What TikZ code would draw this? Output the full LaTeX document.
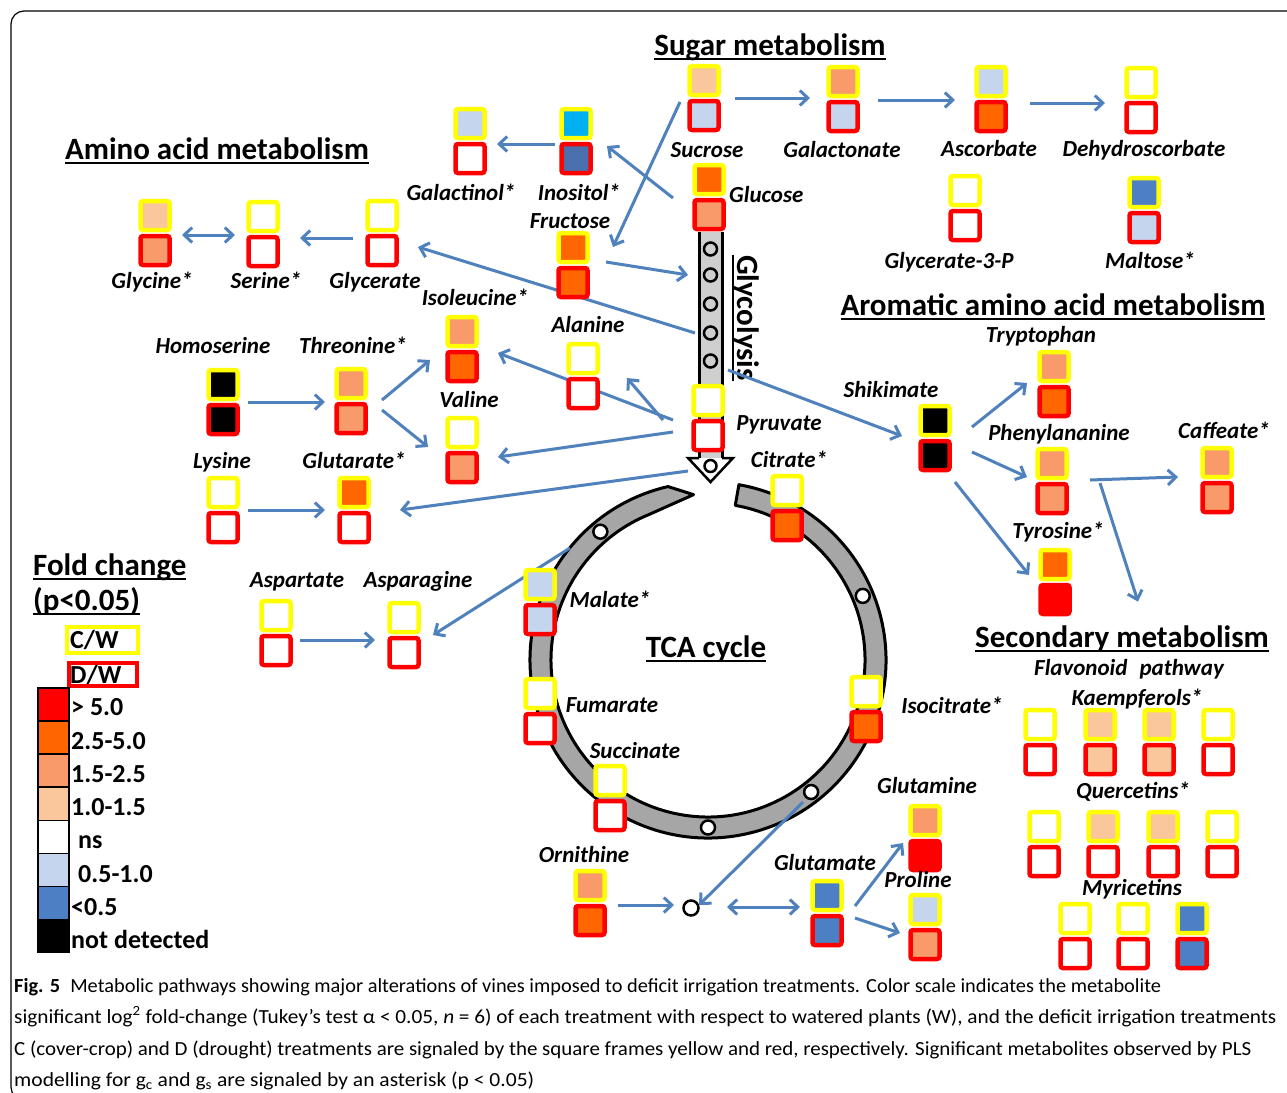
\documentclass[tikz,border=0pt]{standalone}
\usepackage{fontspec}
\setmainfont{Carlito}
\usepackage{graphicx}
\usetikzlibrary{arrows.meta,calc}

\definecolor{yel}{HTML}{FFFF00}
\definecolor{rd}{HTML}{FF0000}
\definecolor{org}{HTML}{FF6600}
\definecolor{sal}{HTML}{F89A6A}
\definecolor{pea}{HTML}{FAC69C}
\definecolor{wh}{HTML}{FFFFFF}
\definecolor{lbl}{HTML}{C6D5EE}
\definecolor{blu}{HTML}{4D7FC4}
\definecolor{dbl}{HTML}{4A70AE}
\definecolor{cya}{HTML}{00B0F0}
\definecolor{blk}{HTML}{000000}
\definecolor{arrblue}{HTML}{4F81BD}
\definecolor{ringgray}{HTML}{A6A6A6}
\definecolor{colgray}{HTML}{CFCFCF}

\newcommand\myul[1]{\setbox0\hbox{#1}\rlap{\rule[-0.16em]{\wd0}{0.065em}}\box0}

\newcommand\metab[5]{%
  \coordinate (#1) at (#2,#3);
  \node[ybox, fill=#4] (#1C) at (#2,#3-17.5) {};
  \node[rbox, fill=#5] (#1D) at (#2,#3+17.5) {};}

\tikzset{
  ybox/.style={draw=yel, line width=4.5pt, rounded corners=2.5pt, minimum size=29pt, inner sep=0pt, outer sep=0pt},
  rbox/.style={ybox, draw=rd},
  lab/.style={font=\fontsize{23}{27}\selectfont\bfseries\itshape, inner sep=0pt, anchor=base},
  ttl/.style={font=\fontsize{31}{36}\selectfont\bfseries, inner sep=0pt, anchor=base},
  leg/.style={font=\fontsize{26}{30}\selectfont\bfseries, inner sep=0pt, anchor=base west},
  captext/.style={font=\fontsize{20}{24}\selectfont, inner sep=0pt, anchor=base west},
  arr/.style={draw=arrblue, line width=3pt, -{Straight Barb[length=8pt,width=15pt]}},
  darr/.style={draw=arrblue, line width=3pt, {Straight Barb[length=8pt,width=15pt]}-{Straight Barb[length=8pt,width=15pt]}},
  ringdot/.style={circle, draw, fill=white, line width=2.5pt, minimum size=14pt, inner sep=0pt},
}

\begin{document}
\begin{tikzpicture}[x=1pt, y=-1pt]
\useasboundingbox (0,0) rectangle (1287,1092);
\fill[white] (0,0) rectangle (1287,1092);
\begin{scope}
  \clip (0,0) rectangle (1287,1092);
  \draw[line width=1.2pt, rounded corners=13pt] (11,11) rectangle (1330,1100);
\end{scope}

% TCA ring
\begin{scope}[shift={(708,660)}, y=1pt]
  \filldraw[fill=ringgray, draw=black, line width=3pt, line join=round]
    (95:166) -- (103:178) arc[start angle=103, end angle=440, radius=178]
    -- (440:157) arc[start angle=440, end angle=112, radius=157] -- cycle;
  \node[ringdot] (rc1) at (130:167.5) {};
  \node[ringdot] (rc2) at (22.5:167.5) {};
  \node[ringdot] (rc3) at (-52:167.5) {};
  \node[ringdot] (rc4) at (-90:167.5) {};
\end{scope}

% glycolysis column
\node[fill=colgray, minimum width=23pt, minimum height=226pt, inner sep=0pt, outer sep=0pt] (glyc) at (710.5,345) {};
\draw[line width=3pt] (glyc.north west) -- (glyc.south west);
\draw[line width=3pt] (glyc.north east) -- (glyc.south east);
\foreach \yy in {249,275,304,333,361}
  \draw[line width=2.5pt] (710.5,\yy) circle[radius=6.5];
\filldraw[fill=white, line width=2.5pt, line join=miter]
  (glyc.south west) -- ++(-11,0) -- ($(glyc.south)+(0,24)$) -- ($(glyc.south east)+(11,0)$) -- (glyc.south east);
\draw[line width=2.5pt] ($(glyc.south)+(0,8)$) circle[radius=6];
\node[font=\fontsize{31}{36}\selectfont\bfseries, inner sep=0pt, rotate=-90, anchor=base west] (glycT) at (737,255) {\myul{Glycolysis}};

% junction circle
\node[circle, draw, line width=2.5pt, fill=white, minimum size=15pt, inner sep=0pt] (junc) at (691,908) {};

% coordinates of metabolites (for connectors)
\coordinate (suc) at (704,98);   \coordinate (gal) at (843,99);
\coordinate (asc) at (991,99);   \coordinate (dhs) at (1141,100);
\coordinate (ino) at (576,141);  \coordinate (gtl) at (470,141);
\coordinate (glc) at (709,197);  \coordinate (fru) at (573,265);
\coordinate (gly) at (155,233);  \coordinate (ser) at (263,234);
\coordinate (gla) at (382,233);  \coordinate (hse) at (223,402);
\coordinate (thr) at (351,401);  \coordinate (lys) at (223,510);
\coordinate (gta) at (354,510);  \coordinate (asp) at (276,633);
\coordinate (asn) at (404,635);  \coordinate (ile) at (462,349);
\coordinate (val) at (462,450);  \coordinate (ala) at (583,376);
\coordinate (pyr) at (708,418);  \coordinate (mla) at (540,602);
\coordinate (orn) at (590,903);  \coordinate (glu) at (827,913);
\coordinate (gln) at (925,838);  \coordinate (pro) at (925,927);
\coordinate (shk) at (935,438);  \coordinate (trp) at (1054,384);
\coordinate (phe) at (1052,481); \coordinate (caf) at (1217,480);
\coordinate (tyr) at (1055,582);

% headings
\node[ttl] (sugar) at (770,55) {\myul{Sugar metabolism}};
\node[ttl] (amino) at (217,159) {\myul{Amino acid metabolism}};
\node[ttl] (arom) at (1053,315) {\myul{Aromatic amino acid metabolism}};
\node[ttl] (sec) at (1122,647) {\myul{Secondary metabolism}};
\node[ttl] (tca) at (706,657) {\myul{TCA cycle}};

% connectors
\draw[arr] ($(suc)+(31,0)$) -- ($(gal)+(-33,-1)$);
\draw[arr] ($(gal)+(35,1)$) -- ($(asc)+(-36,1)$);
\draw[arr] ($(asc)+(39,4)$) -- ($(dhs)+(-36,3)$);
\draw[arr] ($(ino)+(-21,3)$) -- ($(gtl)+(27,3)$);
\draw[arr] ($(glc)+(-36,1)$) -- ($(ino)+(31,5)$);
\draw[arr] ($(suc)+(-24,4)$) -- ($(fru)+(40,-18)$);
\draw[arr] ($(fru)+(33,-3)$) -- ($(glyc.west)+(-11,-70)$);
\draw[arr] ($(glyc.west)+(-4,-12)$) -- ($(gla)+(36,14)$);
\draw[arr] ($(glyc.east)+(6,25)$) -- ($(shk)+(-33,-2)$);
\draw[darr] ($(gly)+(27,2)$) -- ($(ser)+(-28,1)$);
\draw[arr] ($(gla)+(-29,5)$) -- ($(ser)+(37,4)$);
\draw[arr] ($(hse)+(25,0)$) -- ($(thr)+(-26,1)$);
\draw[arr] ($(thr)+(31,-1)$) -- ($(ile)+(-32,11)$);
\draw[arr] ($(thr)+(31,9)$) -- ($(val)+(-34,-3)$);
\draw[arr] ($(lys)+(25,0)$) -- ($(gta)+(-29,0)$);
\draw[arr] ($(pyr)+(-35,2)$) -- ($(ile)+(36,4)$);
\draw[arr] ($(pyr)+(-45,2)$) -- ($(ala)+(44,2)$);
\draw[arr] ($(pyr)+(-35,14)$) -- ($(val)+(36,7)$);
\draw[arr] ($(pyr)+(-20,53)$) -- ($(gta)+(46,0)$);
\draw[arr] ($(asp)+(24,7)$) -- ($(asn)+(-29,5)$);
\draw[arr] ($(mla)+(30,-54)$) -- ($(asn)+(29,0)$);
\draw[arr] ($(shk)+(37,-11)$) -- ($(trp)+(-27,-1)$);
\draw[arr] ($(shk)+(37,14)$) -- ($(phe)+(-25,-4)$);
\draw[arr] ($(shk)+(20,44)$) -- ($(tyr)+(-26,-7)$);
\draw[arr] ($(phe)+(38,-1)$) -- ($(caf)+(-39,-3)$);
\draw[arr] ($(phe)+(48,2)$) -- ($(sec)+(16,-37)$);
\draw[arr] ($(orn)+(28,2)$) -- ($(junc)+(-17,-3)$);
\draw[darr] ($(junc)+(36,-1)$) -- ($(glu)+(-27,-6)$);
\draw[arr] ($(rc3)+(-8,10)$) -- ($(junc)+(8,-3)$);
\draw[arr] ($(glu)+(28,-7)$) -- ($(gln)+(-22,5)$);
\draw[arr] ($(glu)+(28,5)$) -- ($(pro)+(-25,6)$);

% metabolite boxes
\metab{sucB}{704}{98}{pea}{lbl}
\metab{galB}{843}{99}{sal}{lbl}
\metab{ascB}{991}{99}{lbl}{org}
\metab{dhsB}{1141}{100}{wh}{wh}
\metab{g3pB}{965}{208}{wh}{wh}
\metab{mltB}{1144}{210}{blu}{lbl}
\metab{inoB}{576}{141}{cya}{dbl}
\metab{gtlB}{470}{141}{lbl}{wh}
\metab{glcB}{709}{197}{org}{sal}
\metab{fruB}{573}{265}{org}{org}
\metab{glyB}{155}{233}{pea}{sal}
\metab{serB}{263}{234}{wh}{wh}
\metab{glaB}{382}{233}{wh}{wh}
\metab{hseB}{223}{402}{blk}{blk}
\metab{thrB}{351}{401}{sal}{sal}
\metab{lysB}{223}{510}{wh}{wh}
\metab{gtaB}{354}{510}{org}{wh}
\metab{aspB}{276}{633}{wh}{wh}
\metab{asnB}{404}{635}{wh}{wh}
\metab{ileB}{462}{349}{sal}{org}
\metab{valB}{462}{450}{wh}{sal}
\metab{alaB}{583}{376}{wh}{wh}
\metab{pyrB}{708}{418}{wh}{wh}
\metab{citB}{787}{508}{wh}{org}
\metab{mlaB}{540}{602}{lbl}{lbl}
\metab{fumB}{540}{711}{wh}{wh}
\metab{sccB}{610}{798}{wh}{wh}
\metab{ornB}{590}{903}{sal}{org}
\metab{ictB}{866}{709}{wh}{org}
\metab{gluB}{827}{913}{blu}{blu}
\metab{glnB}{925}{838}{sal}{rd}
\metab{proB}{925}{927}{lbl}{sal}
\metab{shkB}{935}{438}{blk}{blk}
\metab{trpB}{1054}{384}{sal}{org}
\metab{pheB}{1052}{481}{sal}{sal}
\metab{cafB}{1217}{480}{sal}{sal}
\metab{tyrB}{1055}{582}{org}{rd}
\metab{kae1}{1040}{742}{wh}{wh}
\metab{kae2}{1100}{742}{pea}{pea}
\metab{kae3}{1159}{742}{pea}{pea}
\metab{kae4}{1218}{742}{wh}{wh}
\metab{que1}{1044}{844}{wh}{wh}
\metab{que2}{1103}{844}{pea}{wh}
\metab{que3}{1163}{844}{pea}{wh}
\metab{que4}{1222}{844}{wh}{wh}
\metab{myr1}{1075}{936}{wh}{wh}
\metab{myr2}{1133}{936}{wh}{wh}
\metab{myr3}{1192}{936}{blu}{blu}

% labels
\node[lab] (sucL) at (707,157) {Sucrose};
\node[lab] (galL) at (842,157) {Galactonate};
\node[lab] (ascL) at (989,156) {Ascorbate};
\node[lab] (dhsL) at (1144,156) {Dehydroscorbate};
\node[lab] (g3pL) at (949,268) {Glycerate-3-P};
\node[lab] (mltL) at (1150,268) {Maltose*};
\node[lab] (gtlL) at (461,200) {Galactinol*};
\node[lab] (inoL) at (579,200) {Inositol*};
\node[lab] (fruL) at (570,228) {Fructose};
\node[lab, anchor=base west] (glcL) at (729,202) {Glucose};
\node[lab] (glyL) at (152,288) {Glycine*};
\node[lab] (serL) at (266,288) {Serine*};
\node[lab] (glaL) at (375,288) {Glycerate};
\node[lab] (ileL) at (475,305) {Isoleucine*};
\node[lab] (alaL) at (588,332) {Alanine};
\node[lab] (hseL) at (213,353) {Homoserine};
\node[lab] (thrL) at (353,353) {Threonine*};
\node[lab] (valL) at (469,407) {Valine};
\node[lab] (lysL) at (222,468) {Lysine};
\node[lab] (gtaL) at (354,468) {Glutarate*};
\node[lab] (aspL) at (297,587) {Aspartate};
\node[lab] (asnL) at (418,587) {Asparagine};
\node[lab] (pyrL) at (779,430) {Pyruvate};
\node[lab] (citL) at (789,467) {Citrate*};
\node[lab] (mlaL) at (610,607) {Malate*};
\node[lab] (fumL) at (612,712) {Fumarate};
\node[lab] (sccL) at (635,758) {Succinate};
\node[lab] (ornL) at (584,862) {Ornithine};
\node[lab] (ictL) at (952,713) {Isocitrate*};
\node[lab] (glnL) at (927,793) {Glutamine};
\node[lab] (gluL) at (825,870) {Glutamate};
\node[lab] (proL) at (918,887) {Proline};
\node[lab] (shkL) at (891,397) {Shikimate};
\node[lab] (trpL) at (1041,342) {Tryptophan};
\node[lab] (pheL) at (1059,440) {Phenylananine};
\node[lab] (cafL) at (1224,438) {Caffeate*};
\node[lab] (tyrL) at (1058,538) {Tyrosine*};
\node[lab] (flaL) at (1129,675) {Flavonoid\hspace{0.3em} pathway};
\node[lab] (kaeL) at (1137,705) {Kaempferols*};
\node[lab] (queL) at (1133,798) {Quercetins*};
\node[lab] (myrL) at (1132,895) {Myricetins};

% legend
\node[ttl, anchor=base west] (fold) at (33,575) {\myul{Fold change}};
\node[ttl, anchor=base west] (pval) at (33,610) {\myul{(p<0.05)}};
\node[draw=yel, line width=4pt, minimum width=71pt, minimum height=26pt, inner sep=0pt] (cw) at (102,640) {};
\node[draw=rd, line width=4pt, minimum width=68pt, minimum height=23pt, inner sep=0pt] (dw) at (103,674.5) {};
\node[leg] (cwT) at (70,648) {C/W};
\node[leg] (dwT) at (70,683) {D/W};
\foreach \c/\i in {rd/0, org/1, sal/2, pea/3, wh/4, lbl/5, blu/6, blk/7}
  \node[draw, line width=1.5pt, fill=\c, minimum width=31pt, minimum height=33pt, inner sep=0pt] (sc\i) at (53.5,704.5+33.1*\i) {};
\node[leg] (t0) at (71,715) {> 5.0};
\node[leg] (t1) at (71,749) {2.5-5.0};
\node[leg] (t2) at (71,782) {1.5-2.5};
\node[leg] (t3) at (71,815) {1.0-1.5};
\node[leg] (t4) at (78,848) {ns};
\node[leg] (t5) at (78,882) {0.5-1.0};
\node[leg] (t6) at (71,915) {<0.5};
\node[leg] (t7) at (71,948) {not detected};

% caption
\node[captext] (cap1) at (14,992) {\resizebox{1147pt}{\height}{\textbf{Fig. 5}\hspace{0.5em}Metabolic pathways showing major alterations of vines imposed to deficit irrigation treatments. Color scale indicates the metabolite}};
\node[captext] (cap2) at (14,1023.5) {\resizebox{1262pt}{\height}{significant log\textsuperscript{2} fold-change (Tukey’s test α < 0.05, \textit{n} = 6) of each treatment with respect to watered plants (W), and the deficit irrigation treatments}};
\node[captext] (cap3) at (14,1055) {\resizebox{1237pt}{\height}{C (cover-crop) and D (drought) treatments are signaled by the square frames yellow and red, respectively. Significant metabolites observed by PLS}};
\node[captext] (cap4) at (14,1086) {\resizebox{520pt}{\height}{modelling for g\textsubscript{c} and g\textsubscript{s} are signaled by an asterisk (p < 0.05)}};
\end{tikzpicture}
\end{document}
